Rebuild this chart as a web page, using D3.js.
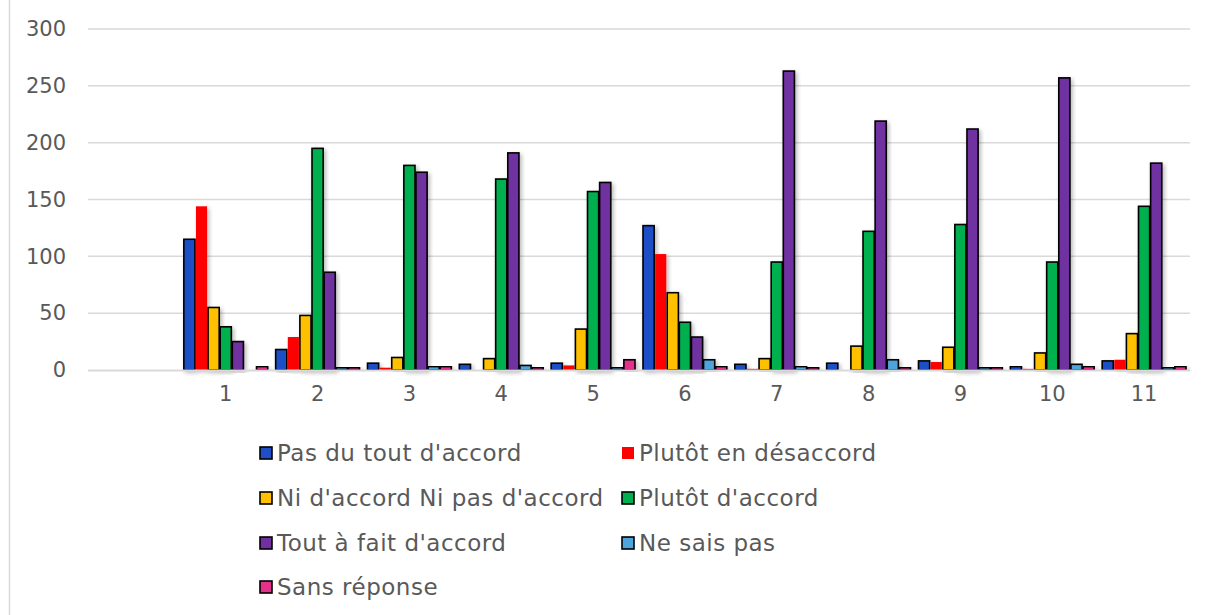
<!DOCTYPE html>
<html>
<head>
<meta charset="utf-8">
<script src="https://cdn.jsdelivr.net/npm/d3@7"></script>
<style>
  html, body { margin: 0; padding: 0; background: #fff; }
  svg { display: block; }
  text { font-family: "DejaVu Sans", sans-serif; fill: #595959; }
</style>
</head>
<body>
<svg id="chart" width="1208" height="615"></svg>
<script>
// Questions (the first slot is left empty on the axis)
const categories = ["", "1", "2", "3", "4", "5", "6", "7", "8", "9", "10", "11"];

const seriesNames = [
  "Pas du tout d'accord",
  "Plutôt en désaccord",
  "Ni d'accord Ni pas d'accord",
  "Plutôt d'accord",
  "Tout à fait d'accord",
  "Ne sais pas",
  "Sans réponse"
];

const seriesColors = ["#1f4fc6", "#ff0000", "#ffc000", "#00b050", "#7030a0", "#4ea4dc", "#e4318c"];

// Answer counts per question (first slot empty)
const pasDuTout   = [null, 115,  18,   6,   5,   6, 127,   5,   6,   8,   3,   8];
const plutotDesac = [null, 144,  29,   2,   0,   4, 102,   1,   0,   7,   1,   9];
const niNi        = [null,  55,  48,  11,  10,  36,  68,  10,  21,  20,  15,  32];
const plutotAcc   = [null,  38, 195, 180, 168, 157,  42,  95, 122, 128,  95, 144];
const toutAFait   = [null,  25,  86, 174, 191, 165,  29, 263, 219, 212, 257, 182];
const neSaisPas   = [null,   0,   2,   3,   4,   2,   9,   3,   9,   2,   5,   2];
const sansReponse = [null,   3,   2,   3,   2,   9,   3,   2,   2,   2,   3,   3];

const yTicks = [0, 50, 100, 150, 200, 250, 300];

const seriesValues = [pasDuTout, plutotDesac, niNi, plutotAcc, toutAFait, neSaisPas, sansReponse];

const svg = d3.select("#chart");

const plot = { left: 88, right: 1190, top: 29, bottom: 370 };

const x0 = d3.scaleBand()
  .domain(categories.map((c, i) => i))
  .range([plot.left, plot.right])
  .paddingInner(0)
  .paddingOuter(0);

const x1 = d3.scaleBand()
  .domain(seriesNames.map((s, i) => i))
  .range([4, x0.bandwidth() - 4])
  .paddingInner(0.08)
  .paddingOuter(0);

const y = d3.scaleLinear().domain([0, 300]).range([plot.bottom, plot.top]);

// soft drop shadow for the bars
const defs = svg.append("defs");
const f = defs.append("filter").attr("id", "shadow")
  .attr("x", "-50%").attr("y", "-10%").attr("width", "200%").attr("height", "120%");
f.append("feDropShadow").attr("dx", 2).attr("dy", 2).attr("stdDeviation", 2)
  .attr("flood-color", "#000").attr("flood-opacity", 0.28);

// outer frame edge on the left
svg.append("line")
  .attr("x1", 9.5).attr("x2", 9.5).attr("y1", 0).attr("y2", 615)
  .attr("stroke", "#d9d9d9").attr("stroke-width", 1.5);

// gridlines
svg.append("g").selectAll("line")
  .data(yTicks.filter(t => t > 0))
  .join("line")
  .attr("x1", plot.left).attr("x2", plot.right)
  .attr("y1", d => y(d)).attr("y2", d => y(d))
  .attr("stroke", "#d9d9d9").attr("stroke-width", 1.5);

// y axis labels
const yAxis = d3.axisLeft(y).tickValues(yTicks).tickSize(0).tickPadding(0);
const gy = svg.append("g").attr("transform", `translate(66,0)`).call(yAxis);
gy.select(".domain").remove();
gy.selectAll("text")
  .attr("font-size", 21)
  .attr("fill", "#595959")
  .attr("font-family", "DejaVu Sans, sans-serif");

// bars
const groups = svg.append("g").selectAll("g")
  .data(categories.map((c, i) => i))
  .join("g")
  .attr("transform", i => `translate(${x0(i)},0)`);

groups.selectAll("rect")
  .data(i => seriesValues.map((vals, s) => ({ s, v: vals[i] })).filter(d => d.v != null && d.v > 0))
  .join("rect")
  .attr("x", d => x1(d.s))
  .attr("width", x1.bandwidth())
  .attr("y", d => y(d.v))
  .attr("height", d => y(0) - y(d.v))
  .attr("fill", d => seriesColors[d.s])
  .attr("stroke", d => d.s === 1 ? "none" : "#000")
  .attr("stroke-width", 1.6)
  .attr("filter", "url(#shadow)");

// category axis
svg.append("line")
  .attr("x1", plot.left).attr("x2", plot.right)
  .attr("y1", y(0) + 0.5).attr("y2", y(0) + 0.5)
  .attr("stroke", "#d9d9d9").attr("stroke-width", 2);

const xAxis = d3.axisBottom(x0).tickFormat(i => categories[i]).tickSize(0).tickPadding(0);
const gx = svg.append("g").attr("transform", `translate(0,${y(0) + 16})`).call(xAxis);
gx.select(".domain").remove();
gx.selectAll("text")
  .attr("font-size", 21)
  .attr("fill", "#595959")
  .attr("font-family", "DejaVu Sans, sans-serif")
  .attr("dy", "0.71em");

// legend
const legendCols = [260, 622];
const legendRows = [453, 498, 543, 587];
const legend = svg.append("g").selectAll("g")
  .data(seriesNames.map((n, i) => i))
  .join("g")
  .attr("transform", i => `translate(${legendCols[i % 2]},${legendRows[Math.floor(i / 2)]})`);

legend.append("rect")
  .attr("x", 0).attr("y", -6).attr("width", 12).attr("height", 12)
  .attr("fill", i => seriesColors[i])
  .attr("stroke", i => i === 1 ? "none" : "#000")
  .attr("stroke-width", 1.6);

legend.append("text")
  .attr("x", 17).attr("y", 0).attr("dy", "0.36em")
  .attr("font-size", 23)
  .attr("letter-spacing", 0.5)
  .text(i => seriesNames[i]);
</script>
</body>
</html>
